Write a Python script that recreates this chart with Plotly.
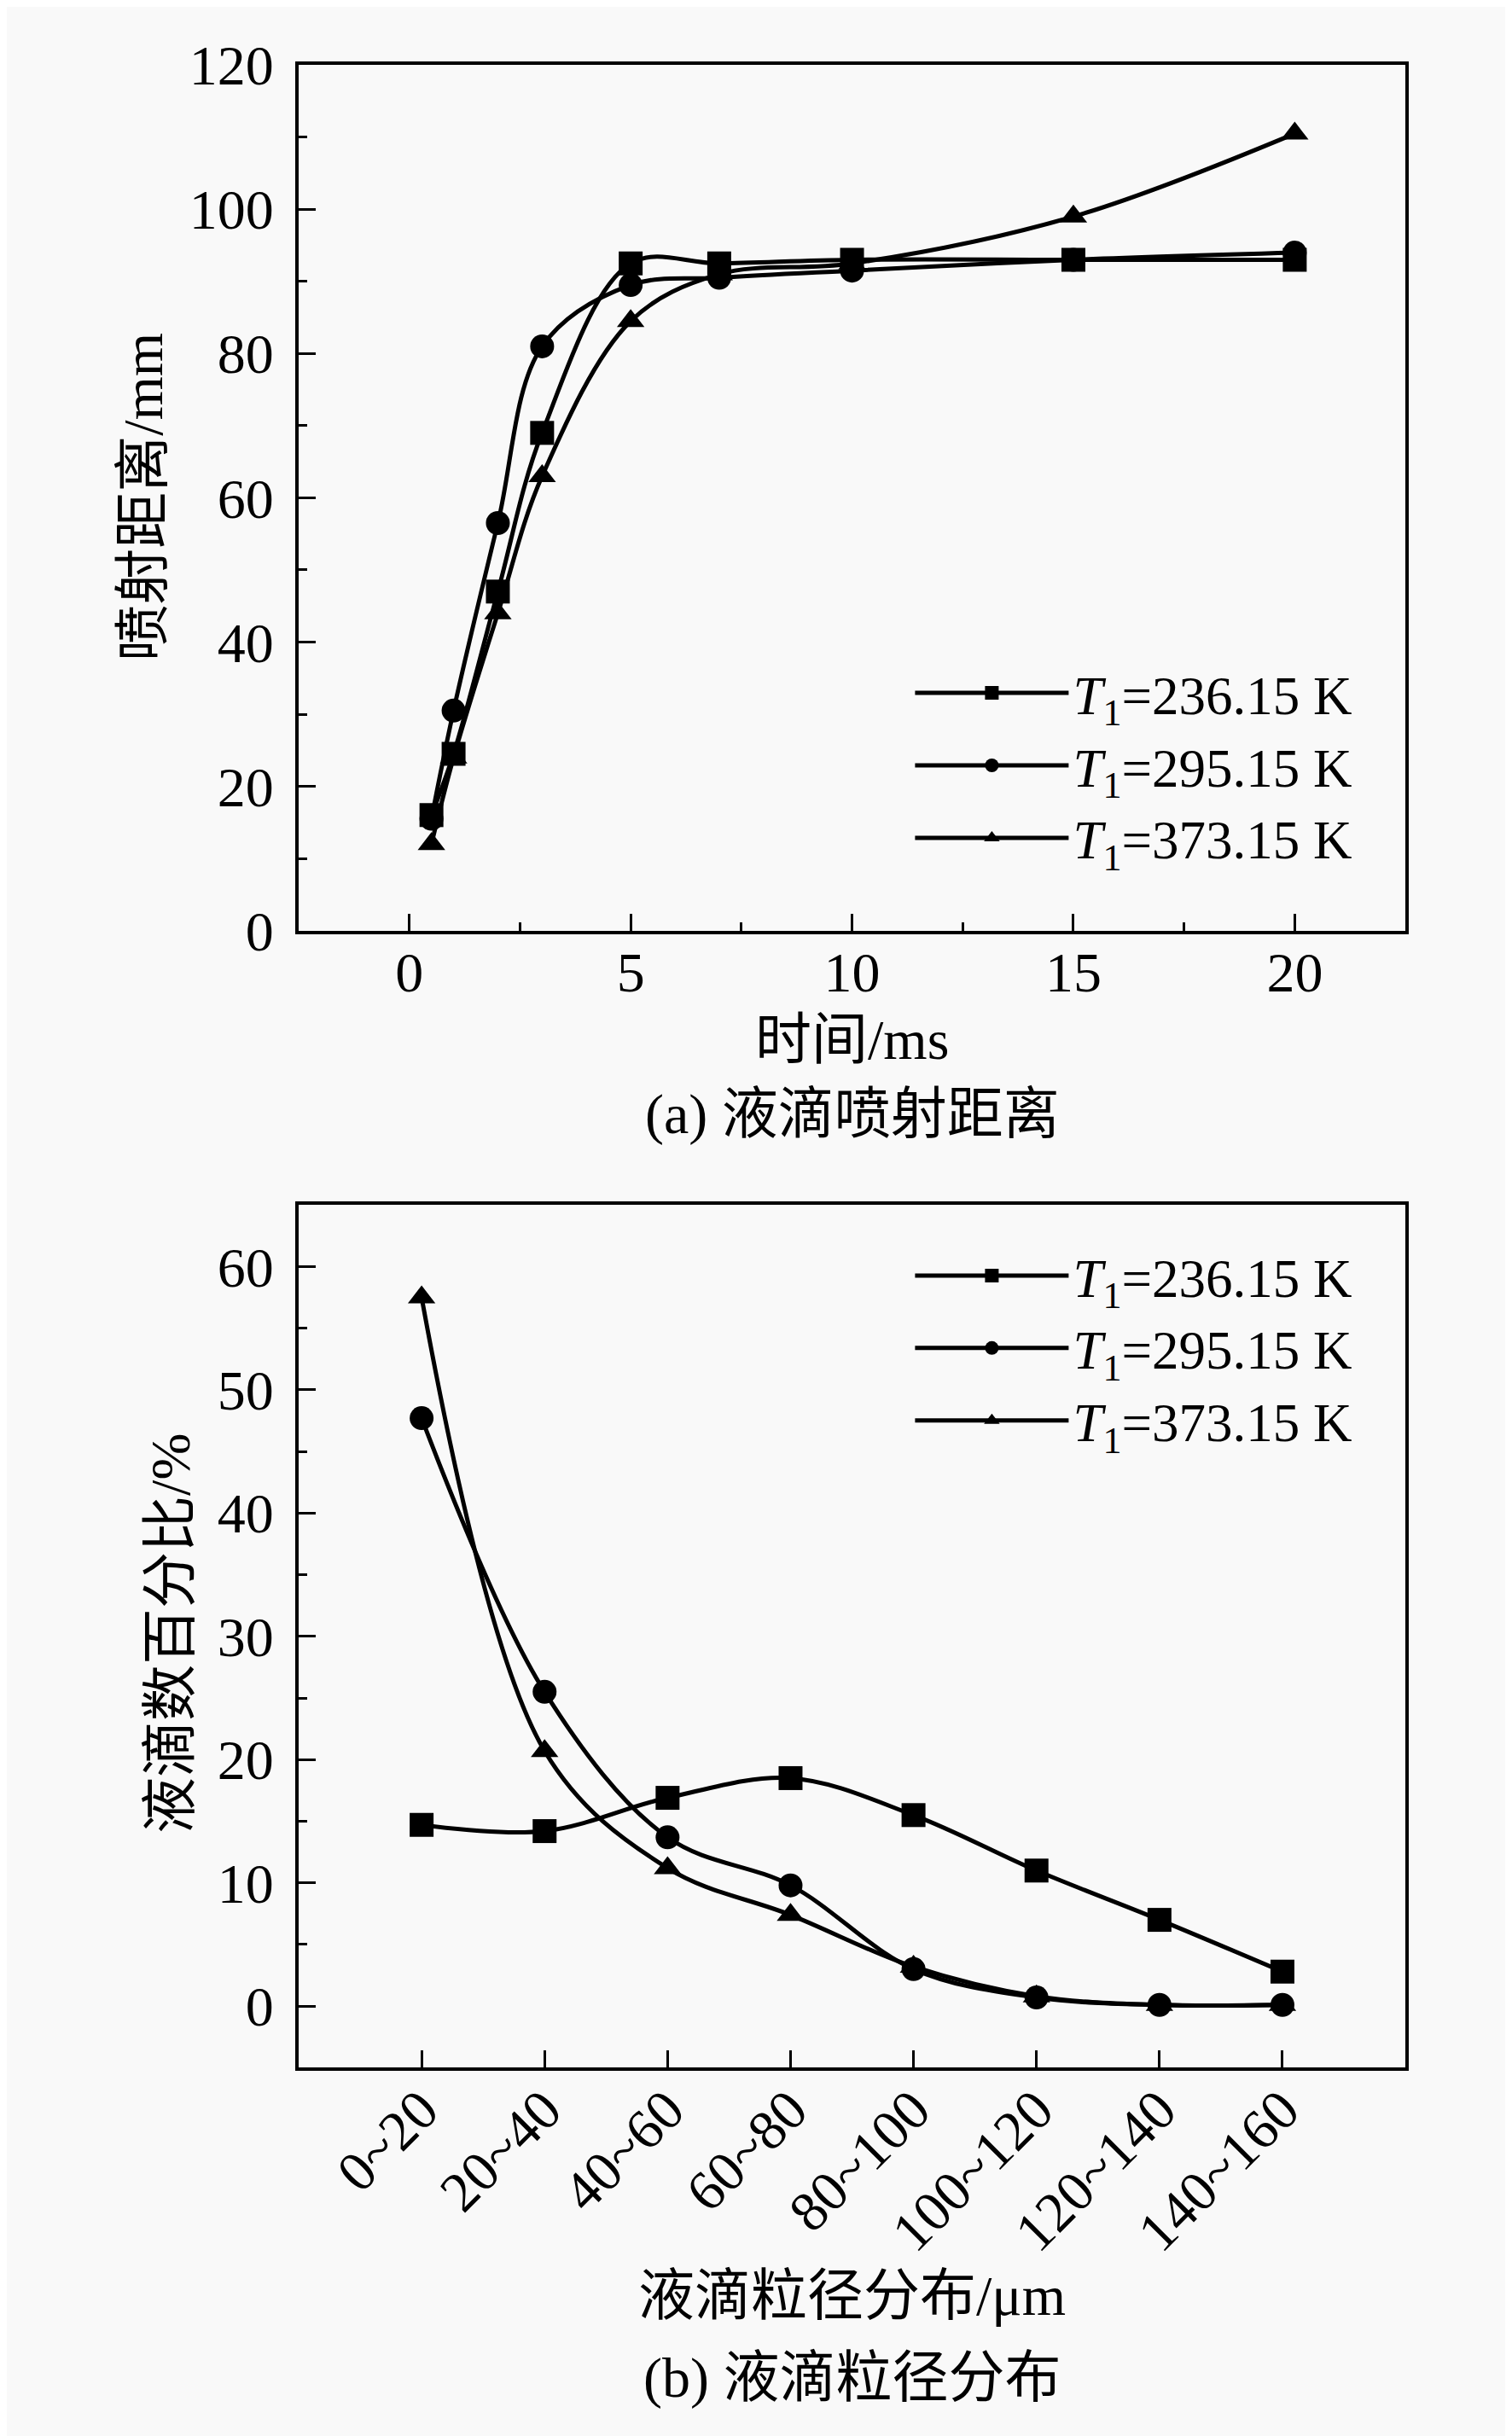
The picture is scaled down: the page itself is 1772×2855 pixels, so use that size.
import plotly.graph_objects as go

# (a) spray distance vs time
time_ms = [0.5, 1, 2, 3, 5, 7, 10, 15, 20]
dist_236 = [16, 24.5, 47, 69, 92.5, 92.5, 93, 93, 93]
dist_295 = [15.5, 30.5, 56.5, 81, 89.5, 90.5, 91.5, 93, 94]
dist_373 = [12, 24, 44, 63, 84.5, 91, 92.5, 99, 110.5]

# (b) droplet size distribution
size_bins = ["0~20", "20~40", "40~60", "60~80", "80~100", "100~120", "120~140", "140~160"]
pct_236 = [14.7, 14.2, 16.9, 18.5, 15.5, 11, 7, 2.8]
pct_295 = [47.7, 25.5, 13.7, 9.8, 3, 0.7, 0.1, 0.1]
pct_373 = [57.5, 20.7, 11.2, 7.4, 3.2, 0.8, 0.1, 0.1]

names = ["<i>T</i><sub>1</sub>=236.15 K", "<i>T</i><sub>1</sub>=295.15 K", "<i>T</i><sub>1</sub>=373.15 K"]
symbols = ["square", "circle", "triangle-up"]

FONT = "Liberation Serif, Times New Roman, Noto Sans CJK SC, serif"
BG = "#f9f9f9"

fig = go.Figure()

for ys, nm, sym in zip([dist_236, dist_295, dist_373], names, symbols):
    fig.add_trace(go.Scatter(x=time_ms, y=ys, name=nm, mode="lines+markers",
                             line=dict(color="black", width=5, shape="spline"),
                             marker=dict(symbol=sym, size=28, color="black"),
                             xaxis="x", yaxis="y", legend="legend"))

for ys, nm, sym in zip([pct_236, pct_295, pct_373], names, symbols):
    fig.add_trace(go.Scatter(x=size_bins, y=ys, name=nm, mode="lines+markers",
                             line=dict(color="black", width=5, shape="spline"),
                             marker=dict(symbol=sym, size=28, color="black"),
                             xaxis="x2", yaxis="y2", legend="legend2"))

minor_style = dict(ticks="inside", ticklen=10, tickwidth=3, tickcolor="black")
axis_style = dict(showline=True, linecolor="black", linewidth=4, mirror=True,
                  ticks="inside", ticklen=20, tickwidth=3, tickcolor="black",
                  showgrid=False, zeroline=False, ticklabeloverflow="allow",
                  tickfont=dict(family=FONT, size=66, color="black"))

fig.update_layout(
    width=1772, height=2855,
    margin=dict(l=0, r=0, t=0, b=0),
    paper_bgcolor=BG, plot_bgcolor=BG,
    font=dict(family=FONT, color="black"),
    xaxis=dict(domain=[0.193, 0.925], anchor="y", range=[-2.5, 22.5], dtick=5, tick0=0,
               ticklabelstandoff=-12, minor=dict(dtick=2.5, **minor_style), **axis_style),
    yaxis=dict(domain=[0.6238, 0.9884], anchor="x", range=[0, 120], dtick=20,
               ticklabelstandoff=12, minor=dict(dtick=10, **minor_style), **axis_style),
    xaxis2=dict(domain=[0.193, 0.925], anchor="y2", type="category", range=[-1, 8],
                tickangle=-45, ticklabelstandoff=-20, **axis_style),
    yaxis2=dict(domain=[0.1447, 0.5082], anchor="x2", range=[-5, 65], dtick=10,
                ticklabelstandoff=12, minor=dict(dtick=5, **minor_style), **axis_style),
    legend=dict(x=0.893, y=0.6457, xanchor="right", yanchor="bottom",
                bgcolor="rgba(0,0,0,0)", font=dict(family=FONT, size=63),
                itemwidth=180, tracegroupgap=0),
    legend2=dict(x=0.893, y=0.4955, xanchor="right", yanchor="top",
                 bgcolor="rgba(0,0,0,0)", font=dict(family=FONT, size=63),
                 itemwidth=180, tracegroupgap=0),
    showlegend=True,
)

annots = [
    dict(text="时间/ms", x=0.559, y=1 - 1205 / 2855),
    dict(text="(a) 液滴喷射距离", x=0.559, y=1 - 1295 / 2855),
    dict(text="喷射距离/mm", x=160 / 1772, y=1 - 553 / 2855, textangle=-90),
    dict(text="液滴粒径分布/μm", x=0.559, y=1 - 2716 / 2855),
    dict(text="(b) 液滴粒径分布", x=0.559, y=1 - 2815 / 2855),
    dict(text="液滴数百分比/%", x=192 / 1772, y=1 - 1920 / 2855, textangle=-90),
]
for a in annots:
    fig.add_annotation(xref="paper", yref="paper", showarrow=False,
                       xanchor="center", yanchor="middle",
                       font=dict(family=FONT, size=66, color="black"), **a)

fig.write_html("out.html")
